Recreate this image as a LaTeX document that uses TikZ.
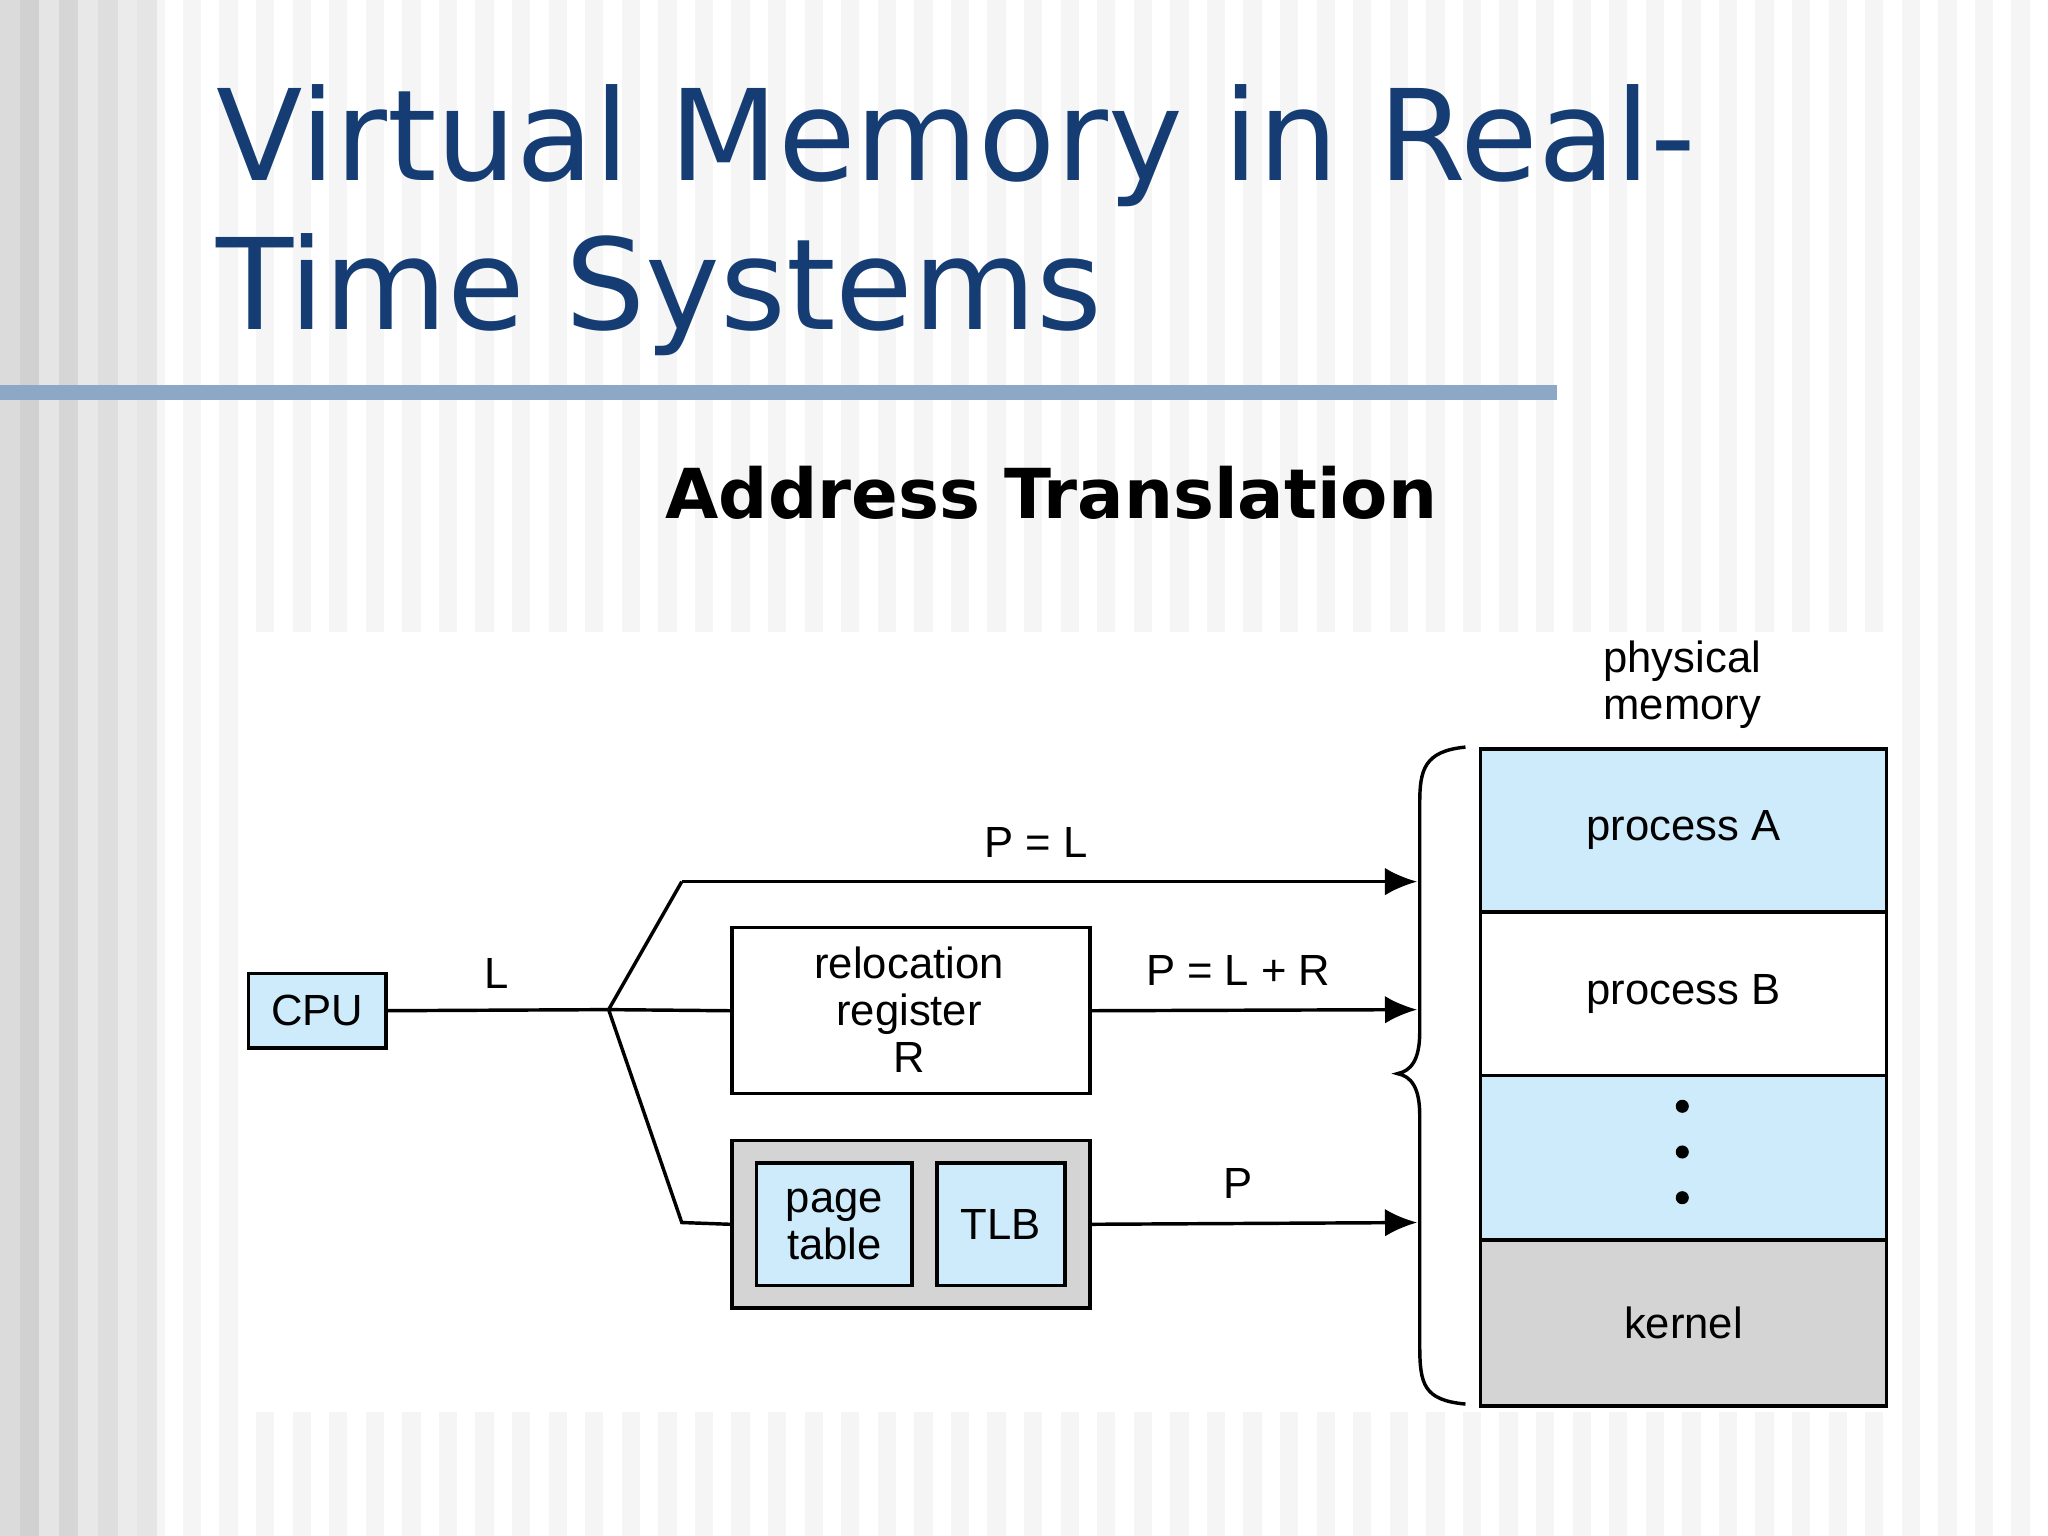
\documentclass[tikz,border=0pt]{standalone}
\usepackage{fontspec}
\setmainfont{Liberation Sans}
\newfontfamily\titlefont{DejaVu Sans}
\usetikzlibrary{arrows.meta}
\definecolor{titleblue}{HTML}{163D73}
\definecolor{rule}{HTML}{8DA8C6}
\definecolor{lblue}{HTML}{CDEBFA}
\definecolor{gbox}{HTML}{D4D4D4}
\begin{document}
\begin{tikzpicture}[x=0.01cm,y=-0.01cm,
  ln/.style={line width=0.75pt,black},
  arr/.style={ln,-{Latex[length=7pt,width=6pt]}},
  box/.style={draw=black,line width=0.75pt,inner sep=0pt,anchor=north west},
  lbl/.style={font=\fontsize{9.5}{11}\selectfont,align=center,inner sep=0pt}]
\useasboundingbox (0,0) rectangle (1568,1176);
% background
\fill[white] (0,0) rectangle (1568,1176);
\foreach \i in {0,...,55}{\fill[black!4] (\i*28,0) rectangle (\i*28+14,1176);}
\foreach \x/\g in {0/14,15/18,30/10,45/16,60/9,75/13,90/8,105/10}{\fill[black!\g] (\x,0) rectangle (\x+15,1176);}
% title
\node[anchor=base west,inner sep=0pt,text=titleblue,font=\titlefont\fontsize{27.5}{33}\selectfont] (t1) at (165,138) {Virtual Memory in Real-};
\node[anchor=base west,inner sep=0pt,text=titleblue,font=\titlefont\fontsize{27.5}{33}\selectfont] (t2) at (165,252) {Time Systems};
\fill[rule] (0,295) rectangle (1192,306);
\node[font=\titlefont\bfseries\fontsize{15}{18}\selectfont,inner sep=0pt] (sub) at (805,377) {Address Translation};
% panel
\fill[white] (183,484) rectangle (1450,1081);
% CPU
\node[box,fill=lblue,minimum width=1.05cm,minimum height=0.57cm,font=\fontsize{9.5}{11}\selectfont] (cpu) at (189,744) {CPU};
\coordinate (j) at (466,773);
\coordinate (ju) at (522,675);
\coordinate (jd) at (522,936);
\coordinate (pu) at (1085,675);
\coordinate (pm) at (1085,773);
\coordinate (pd) at (1085,936);
\draw[ln] (cpu.east) -- (j);
\node[lbl] (L) at (380,745) {L};
% relocation
\node[box,minimum width=2.74cm,minimum height=1.27cm] (rel) at (559,709) {};
\node[lbl,font=\fontsize{9.5}{10.2}\selectfont] (relt) at (696,773) {relocation\\register\\R};
% paging
\node[box,fill=gbox,minimum width=2.74cm,minimum height=1.28cm] (pg) at (559,872) {};
\node[box,fill=lblue,minimum width=1.19cm,minimum height=0.94cm] (pt) at (578,889) {};
\node[lbl,font=\fontsize{9.5}{10.2}\selectfont] at (pt.center) {page\\table};
\node[box,fill=lblue,minimum width=0.98cm,minimum height=0.94cm] (tlb) at (716,889) {};
\node[lbl] at (tlb.center) {TLB};
\draw[ln] (j) -- (ju);
\draw[arr] (ju) -- (pu);
\draw[ln] (j) -- (rel.west);
\draw[ln] (j) -- (jd) -- (pg.west);
\draw[arr] (rel.east) -- (pm);
\draw[arr] (pg.east) -- (pd);
\node[lbl] (l1) at (793,645) {P = L};
\node[lbl] (l2) at (948,743) {P = L + R};
\node[lbl] (l3) at (948,906) {P};
% memory
\node[box,fill=lblue,minimum width=3.11cm,minimum height=1.25cm] (ma) at (1132,572) {};
\node[lbl] at (ma.center) {process A};
\node[box,fill=white,minimum width=3.11cm,minimum height=1.25cm] (mb) at (1132,697) {};
\node[lbl] at (mb.center) {process B};
\node[box,fill=lblue,minimum width=3.11cm,minimum height=1.26cm] (mc) at (1132,822) {};
\foreach \y in {847,882,917}{\fill (1288,\y) circle (5);}
\node[box,fill=gbox,minimum width=3.11cm,minimum height=1.27cm] (mk) at (1132,948) {};
\node[lbl] at (mk.center) {kernel};
\node[lbl,font=\fontsize{9.5}{10.2}\selectfont] (phys) at (1288,524) {physical\\memory};
% brace
\draw[ln] (1122,572) .. controls (1090,575) and (1087,590) .. (1087,615) -- (1087,790)
  .. controls (1087,812) and (1080,820) .. (1070,822)
  .. controls (1080,824) and (1087,832) .. (1087,854) -- (1087,1030)
  .. controls (1087,1060) and (1090,1072) .. (1122,1075);
\end{tikzpicture}
\end{document}
